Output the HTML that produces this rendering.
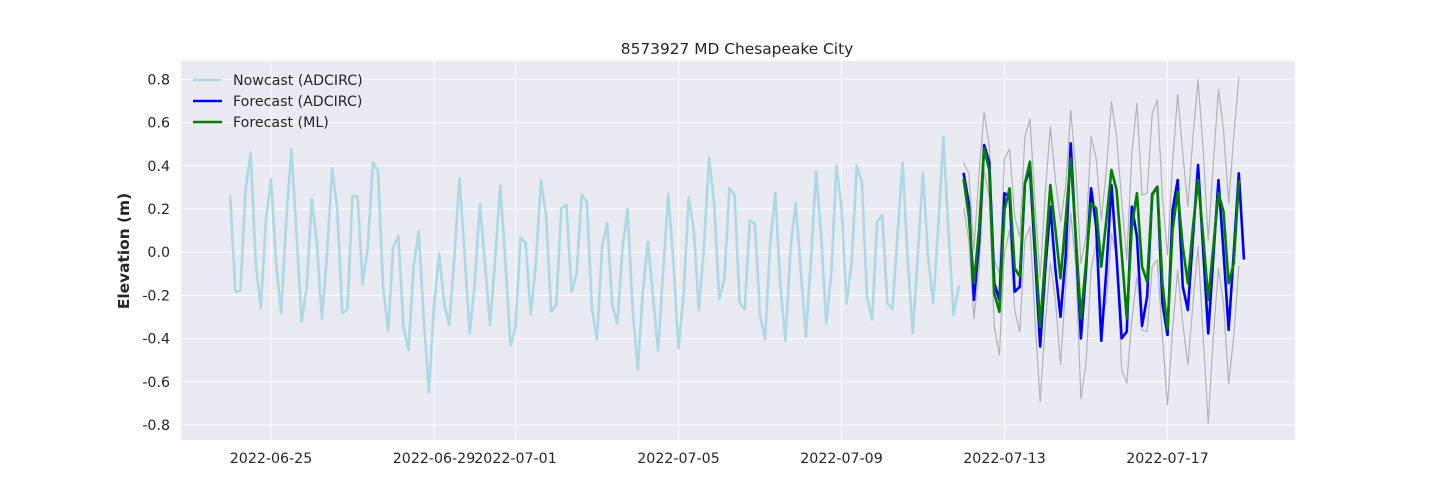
<!DOCTYPE html>
<html><head><meta charset="utf-8"><style>
html,body{margin:0;padding:0;background:#fff;}
svg{display:block;font-family:"DejaVu Sans","Liberation Sans",sans-serif;}
</style></head><body>
<svg id="chart" width="1440" height="504" xmlns="http://www.w3.org/2000/svg">
<rect x="181" y="61" width="1114" height="379" fill="#eaeaf2"/>
<g id="grid"></g>
<g id="series"></g>
<g id="axes"></g>
<text x="737" y="54" text-anchor="middle" font-size="15.4" fill="#262626">8573927 MD Chesapeake City</text>
<text transform="translate(129,251) rotate(-90)" text-anchor="middle" font-size="15.4" font-weight="bold" fill="#262626">Elevation (m)</text>
<g>
<g><line x1="193" y1="80" x2="222" y2="80" stroke="#add8e6" stroke-width="2.6"/><text x="233" y="85" font-size="14.2" fill="#262626">Nowcast (ADCIRC)</text></g>
<g><line x1="193" y1="101" x2="222" y2="101" stroke="#0000ff" stroke-width="2.6"/><text x="233" y="106" font-size="14.2" fill="#262626">Forecast (ADCIRC)</text></g>
<g><line x1="193" y1="122" x2="222" y2="122" stroke="#008000" stroke-width="2.6"/><text x="233" y="127" font-size="14.2" fill="#262626">Forecast (ML)</text></g>
</g>
</svg>
<script>
// days since 2022-06-25; 3-hourly samples
const nowcastStartDay = -1;
const forecastStartDay = 17;
const stepDays = 0.125;
const yTicks = [-0.8,-0.6,-0.4,-0.2,0.0,0.2,0.4,0.6,0.8];
const xTickDays = [0,4,6,10,14,18,22];
const xTickLabels = ["2022-06-25","2022-06-29","2022-07-01","2022-07-05","2022-07-09","2022-07-13","2022-07-17"];
const nowcast = [0.257,-0.183,-0.178,0.288,0.462,-0.051,-0.260,0.149,0.337,-0.051,-0.283,0.149,0.476,0.088,-0.322,-0.167,0.246,0.041,-0.309,-0.005,0.388,0.203,-0.283,-0.264,0.260,0.260,-0.149,0.025,0.414,0.377,-0.160,-0.363,0.023,0.075,-0.345,-0.453,-0.067,0.098,-0.314,-0.649,-0.252,-0.005,-0.237,-0.337,-0.021,0.342,-0.005,-0.375,
-0.144,0.223,-0.051,-0.337,-0.036,0.308,-0.036,-0.433,-0.345,0.069,0.041,-0.288,-0.051,0.334,0.172,-0.275,-0.244,0.203,0.219,-0.183,-0.098,0.265,0.234,-0.260,-0.406,0.025,0.134,-0.244,-0.332,0.018,0.199,-0.268,-0.545,-0.183,0.049,-0.206,-0.456,-0.082,0.269,-0.051,-0.445,-0.198,0.254,0.103,-0.268,0.025,0.439,
0.226,-0.217,-0.126,0.296,0.265,-0.234,-0.264,0.149,0.131,-0.291,-0.403,0.041,0.273,-0.160,-0.410,0.018,0.229,-0.082,-0.391,-0.036,0.373,0.080,-0.329,-0.098,0.399,0.211,-0.237,-0.044,0.400,0.326,-0.206,-0.314,0.141,0.172,-0.237,-0.264,0.080,0.414,-0.036,-0.375,-0.005,0.368,-0.021,-0.237,0.118,0.532,0.095,-0.291,-0.160];
const forecastAdcirc = [0.362,0.226,-0.221,0.041,0.496,0.419,-0.144,-0.221,0.273,0.257,-0.183,-0.160,0.319,0.381,-0.021,-0.437,-0.082,0.211,-0.082,-0.299,-0.021,0.504,0.056,-0.399,-0.082,0.296,0.118,-0.410,-0.082,0.311,-0.021,-0.399,-0.368,0.211,0.072,-0.342,-0.206,0.269,0.303,-0.237,-0.383,0.195,0.334,-0.160,-0.268,0.072,0.404,0.010,-0.376,-0.021,0.334,0.002,-0.360,-0.005,0.365,-0.028];
const forecastML = [0.334,0.164,-0.144,0.103,0.481,0.381,-0.191,-0.276,0.195,0.296,-0.075,-0.113,0.319,0.419,0.041,-0.345,-0.021,0.311,0.103,-0.121,0.149,0.434,0.072,-0.306,-0.052,0.226,0.203,-0.067,0.149,0.381,0.288,-0.005,-0.306,0.118,0.273,-0.067,-0.137,0.265,0.303,-0.144,-0.353,0.103,0.280,0.026,-0.144,0.118,0.334,0.072,-0.221,0.026,0.273,0.188,-0.144,-0.052,0.326];
const mlUpper = [0.411,0.365,0.010,0.365,0.648,0.496,-0.036,-0.098,0.434,0.478,0.164,0.072,0.535,0.617,0.226,-0.121,0.273,0.581,0.334,0.141,0.303,0.658,0.381,-0.052,0.072,0.535,0.434,0.149,0.381,0.697,0.535,0.242,-0.036,0.458,0.689,0.265,0.273,0.643,0.704,0.257,-0.013,0.411,0.732,0.458,0.211,0.535,0.800,0.473,0.056,0.411,0.754,0.566,0.226,0.535,0.810];
const mlLower = [0.203,0.056,-0.306,-0.082,0.381,0.257,-0.345,-0.476,-0.005,0.103,-0.268,-0.368,0.056,0.118,-0.314,-0.692,-0.329,-0.052,-0.221,-0.522,-0.160,0.180,-0.067,-0.677,-0.515,-0.082,0.041,-0.268,-0.237,0.087,-0.021,-0.545,-0.607,-0.314,-0.113,-0.360,-0.368,-0.067,-0.036,-0.391,-0.707,-0.360,-0.082,-0.329,-0.522,-0.237,0.026,-0.391,-0.792,-0.391,-0.075,-0.237,-0.607,-0.391,-0.067];

const NS='http://www.w3.org/2000/svg';
const X0=181,X1=1295,Y0=61,Y1=440;
function xs(d){return 271+d*40.75;}
function ys(v){return 252.2-v*216;}
function mk(tag,attrs,parent){const e=document.createElementNS(NS,tag);for(const k in attrs)e.setAttribute(k,attrs[k]);parent.appendChild(e);return e;}
const grid=document.getElementById('grid'),axes=document.getElementById('axes'),ser=document.getElementById('series');
yTicks.forEach(v=>{
  const l=mk('line',{x1:X0,x2:X1,y1:ys(v),y2:ys(v),stroke:'#fff','stroke-width':1},grid);
  
  
  const t=mk('text',{x:170,y:ys(v)+5,'text-anchor':'end','font-size':14.2,fill:'#262626'},axes);
  t.textContent=v.toFixed(1);
  
  
});
xTickDays.forEach((d,i)=>{
  const l=mk('line',{x1:xs(d),x2:xs(d),y1:Y0,y2:Y1,stroke:'#fff','stroke-width':1},grid);
  
  
  const t=mk('text',{x:xs(d),y:463,'text-anchor':'middle','font-size':14.2,fill:'#262626'},axes);
  t.textContent=xTickLabels[i];
  
  
});
function line(vals,start,color,w,name){
  const pts=vals.map((v,i)=>xs(start+i*stepDays).toFixed(2)+','+ys(v).toFixed(2)).join(' ');
  const p=mk('polyline',{points:pts,fill:'none',stroke:color,'stroke-width':w,'stroke-linejoin':'round','stroke-linecap':'square'},ser);
  
  
}
line(nowcast,nowcastStartDay,'#add8e6',2.6,'nowcast-line');
line(mlUpper,forecastStartDay,'#b3b3b3',1.2,'ml-upper-bound-line');
line(mlLower,forecastStartDay,'#b3b3b3',1.2,'ml-lower-bound-line');
line(forecastAdcirc,forecastStartDay,'#0000ff',2.6,'forecast-adcirc-line');
line(forecastML,forecastStartDay,'#008000',2.6,'forecast-ml-line');
</script>
</body></html>
